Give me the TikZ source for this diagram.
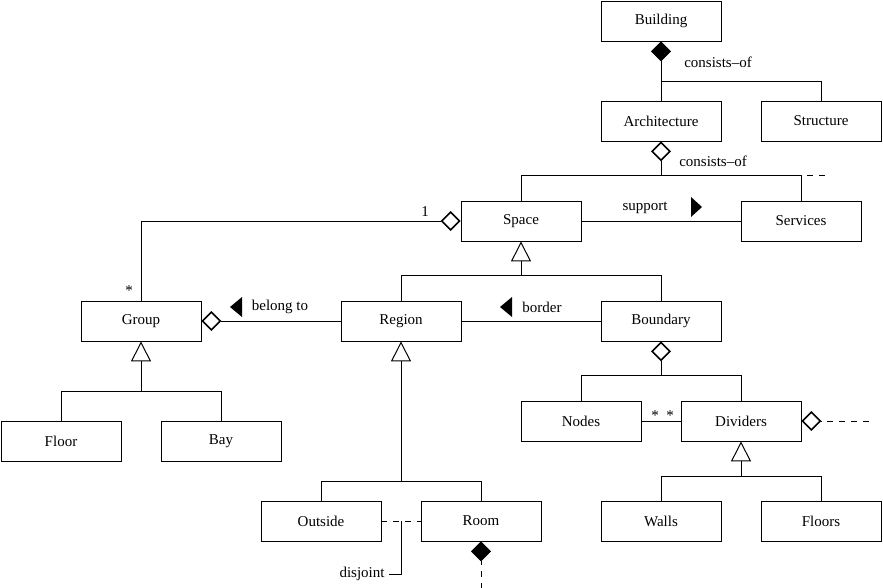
\documentclass[tikz,border=0pt]{standalone}
\usepackage{fontspec}
\setmainfont{Liberation Serif}
\usetikzlibrary{arrows.meta}

\tikzset{
  cls/.style={draw, line width=0.8pt, minimum width=120pt, minimum height=40pt, inner sep=0pt, font=\fontsize{15}{17}\selectfont},
  lbl/.style={inner sep=0pt, font=\fontsize{15}{17}\selectfont},
  link/.style={line width=0.8pt},
  agg/.style={link, {Diamond[open,length=20pt,width=20pt,line width=1.6pt]}-},
  comp/.style={link, {Diamond[length=20pt,width=20pt]}-},
  gen/.style={link, {Triangle[open,length=20pt,width=20pt,line width=1pt]}-},
  loose/.style={link, dash pattern=on 6pt off 6pt, dash phase=6pt},
}

\begin{document}
\begin{tikzpicture}[x=1pt,y=-1pt]
    \useasboundingbox (0,0) rectangle (883,588);

    % classes
    \node[cls] (building) at (661,21) {Building};
    \node[cls] (arch) at (661,121) {Architecture};
    \node[cls] (structure) at (821,121) {Structure};
    \node[cls] (space) at (521,221) {Space};
    \node[cls] (services) at (801,221) {Services};
    \node[cls] (group) at (141,321) {Group};
    \node[cls] (region) at (401,321) {Region};
    \node[cls] (boundary) at (661,321) {Boundary};
    \node[cls] (nodesc) at (581,421) {Nodes};
    \node[cls] (dividers) at (741,421) {Dividers};
    \node[cls] (floor) at (61,441) {Floor};
    \node[cls] (bay) at (221,441) {Bay};
    \node[cls] (outside) at (321,521) {Outside};
    \node[cls] (room) at (481,521) {Room};
    \node[cls] (walls) at (661,521) {Walls};
    \node[cls] (floors) at (821,521) {Floors};

    % forks
    \coordinate (bfork) at (661,81);
    \coordinate (afork) at (661,175);
    \coordinate (aend) at (830,175);
    \coordinate (sfork) at (521,275);
    \coordinate (gfork) at (141,391);
    \coordinate (rfork) at (401,481);
    \coordinate (bdfork) at (661,375);
    \coordinate (dfork) at (741,476);
    \coordinate (djoin) at (401,521);
    \coordinate (dend) at (873,421);
    \coordinate (rend) at (481,588);

    % building
    \draw[comp] (building.south) -- (bfork) -| (structure.north);
    \draw[link] (bfork) -- (arch.north);
    \node[lbl] at (718,62) {consists–of};

    % architecture
    \draw[agg] (arch.south) -- (afork) -| (space.north);
    \draw[link] (afork) -| (services.north);
    \draw[loose] (services.north |- afork) -- (aend);
    \node[lbl] at (713,161) {consists–of};

    % space
    \draw[agg] (space.west) -| (group.north);
    \node[lbl] at (425,212) {1};
    \node[lbl] at (129,291) {*};
    \draw[link] (space.east) -- (services.west);
    \node[lbl] at (645,208) {support};
    \fill (691,197) -- (702,207) -- (691,217) -- cycle;
    \draw[gen] (space.south) -- (sfork) -| (region.north);
    \draw[link] (sfork) -| (boundary.north);

    % group, region
    \draw[agg] (group.east) -- (region.west);
    \node[lbl] at (280,307) {belong to};
    \fill (230,307) -- (242,297) -- (242,317) -- cycle;
    \draw[link] (region.east) -- (boundary.west);
    \node[lbl] at (542,307) {border};
    \fill (500,307) -- (512,297) -- (512,317) -- cycle;
    \draw[gen] (group.south) -- (gfork) -| (floor.north);
    \draw[link] (gfork) -| (bay.north);
    \draw[gen] (region.south) -- (rfork) -| (outside.north);
    \draw[link] (rfork) -| (room.north);

    % outside, room
    \draw[link, dash pattern=on 6pt off 6pt] (outside.east) -- (room.west);
    \node[lbl] (disjoint) at (362,574) {disjoint};
    \draw[link] (djoin) |- ([xshift=4pt]disjoint.east);
    \draw[comp] (room.south) -- ++(0,21) coordinate (rdia);
    \draw[link, dash pattern=on 6pt off 6pt, dash phase=3pt] (rdia) -- (rend);

    % boundary
    \draw[agg] (boundary.south) -- (bdfork) -| (nodesc.north);
    \draw[link] (bdfork) -| (dividers.north);
    \draw[link] (nodesc.east) -- (dividers.west);
    \node[lbl] at (655,416) {*};
    \node[lbl] at (670,416) {*};
    \draw[agg] (dividers.east) -- ++(20,0) coordinate (ddia);
    \draw[loose] (ddia) -- (dend);
    \draw[gen] (dividers.south) -- (dfork) -| (walls.north);
    \draw[link] (dfork) -| (floors.north);
\end{tikzpicture}
\end{document}
